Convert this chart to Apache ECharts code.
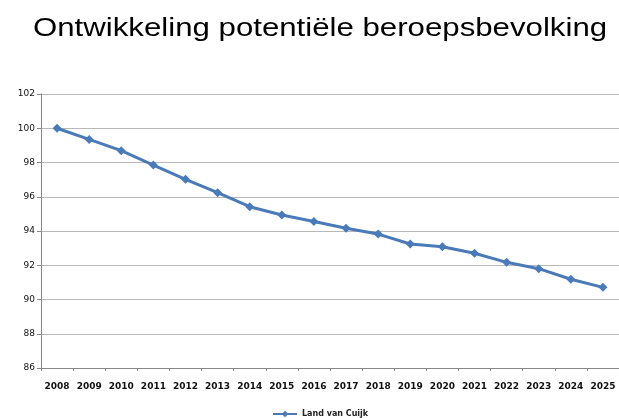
<!DOCTYPE html>
<html><head><meta charset="utf-8">
<script src="https://cdn.jsdelivr.net/npm/echarts@6/dist/echarts.min.js"></script>
<style>html,body{margin:0;padding:0;background:#fff}#c{width:619px;height:418px}</style>
</head><body><div id="c"></div>
<script>
var titleText = "Ontwikkeling potentiële beroepsbevolking";
var seriesName = "Land van Cuijk";
var years = ["2008","2009","2010","2011","2012","2013","2014","2015","2016","2017","2018","2019","2020","2021","2022","2023","2024","2025"];
var values = [100.0, 99.35, 98.69, 97.85, 97.02, 96.24, 95.42, 94.93, 94.56, 94.16, 93.82, 93.24, 93.08, 92.70, 92.17, 91.80, 91.18, 90.71];
var yMin = 86, yMax = 102, yStep = 2;

var chart = echarts.init(document.getElementById('c'), null, {renderer:'canvas'});
chart.setOption({
  animation:false,
  backgroundColor:'#fff',
  graphic:[{type:'text',left:33,top:16,scaleX:1.2,scaleY:1,originX:0,originY:0,
    style:{text:titleText,font:'normal 26px "Liberation Sans"',fill:'#000'}}],
  legend:{top:405,left:267,itemWidth:24,itemHeight:8,itemGap:2,data:[seriesName],
    textStyle:{fontFamily:'DejaVu Sans',fontSize:8,fontWeight:'bold',color:'#222'}},
  grid:{left:41,top:94,width:584,height:274,containLabel:false},
  xAxis:{type:'category',data:years,boundaryGap:true,
    axisLine:{lineStyle:{color:'#888'}},
    axisTick:{show:true,length:3,lineStyle:{color:'#888'}},
    axisLabel:{fontFamily:'DejaVu Sans',fontSize:9,fontWeight:'bold',color:'#111',margin:14,interval:0}},
  yAxis:{type:'value',min:yMin,max:yMax,interval:yStep,
    axisLine:{show:true,lineStyle:{color:'#888'}},
    axisTick:{show:true,length:4,lineStyle:{color:'#888'}},
    splitLine:{lineStyle:{color:'#b8b8b8'}},
    axisLabel:{fontFamily:'DejaVu Sans',fontSize:9,color:'#111',margin:6}},
  series:[{name:seriesName,type:'line',data:values,symbol:'diamond',symbolSize:9,
    lineStyle:{color:'#4a7ab8',width:3},itemStyle:{color:'#4a7ab8'}}]
});
</script></body></html>
